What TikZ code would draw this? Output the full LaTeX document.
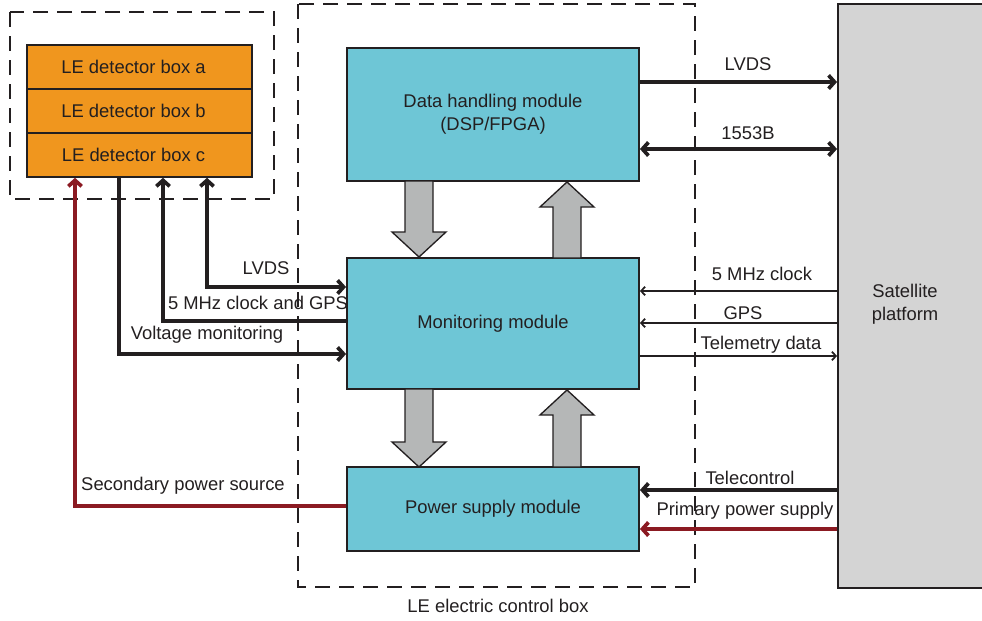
\documentclass[tikz,border=0pt]{standalone}
\usepackage{fontspec}
\setmainfont{Liberation Sans}
\usetikzlibrary{arrows.meta}

\definecolor{linecol}{RGB}{35,31,32}
\definecolor{detorange}{RGB}{240,150,30}
\definecolor{modcyan}{RGB}{110,198,214}
\definecolor{platgray}{RGB}{212,212,212}
\definecolor{blkgray}{RGB}{181,183,183}
\definecolor{powred}{RGB}{139,26,34}

\begin{document}
\begin{tikzpicture}[x=0.75pt, y=-0.75pt,
  font=\fontsize{13.8}{17}\selectfont, text=linecol,
  module/.style={draw=linecol, line width=1.4pt, fill=modcyan, minimum width=219pt, align=center},
  detbox/.style={draw=linecol, line width=1.2pt, fill=detorange, minimum width=168.75pt, minimum height=33pt},
  platform/.style={draw=linecol, line width=1.4pt, fill=platgray, minimum width=109.5pt, minimum height=438pt},
  dashbox/.style={draw=linecol, line width=1.9pt, dash pattern=on 11pt off 7pt},
  lbl/.style={inner sep=0pt},
  wire/.style={draw=linecol, line width=2.8pt, >={Straight Barb[length=4.5pt,width=10pt]}},
  thinwire/.style={draw=linecol, line width=1.3pt, >={Straight Barb[length=3pt,width=6.5pt]}},
  power/.style={wire, draw=powred},
  blk/.style={draw=linecol, line width=1pt, fill=blkgray, line join=miter}]
  \useasboundingbox (0,0) rectangle (982,621);

  % dashed enclosures
  \draw[dashbox] (10,12) rectangle (274,199);
  \draw[dashbox] (298,4) rectangle (695,587);
  \node[lbl] (ctrlbox) at (498,606) {LE electric control box};

  % detector stack
  \node[detbox] (deta) at (139.5,67) {LE detector box a\kern9pt};
  \node[detbox] (detb) at (139.5,111) {LE detector box b\kern9pt};
  \node[detbox] (detc) at (139.5,155) {LE detector box c\kern9pt};

  % modules
  \node[module, minimum height=99.75pt] (data) at (493,114.5) {Data handling module\\(DSP/FPGA)};
  \node[module, minimum height=98.25pt] (mon) at (493,323.5) {Monitoring module};
  \node[module, minimum height=63pt] (pwr) at (493,509) {Power supply module};

  % satellite
  \node[platform] (sat) at (911,296) {};
  \node[lbl, align=center] (satlbl) at (905,304) {Satellite\\platform};

  % block arrows between modules
  \foreach \xc/\ya/\yh/\yb in {419/181/232/257, 419/389/442/467, 567/258/207/182, 567/467/415/390}
    \draw[blk] (\xc-14,\ya) -- (\xc+14,\ya) -- (\xc+14,\yh) -- (\xc+27,\yh) -- (\xc,\yb)
      -- (\xc-27,\yh) -- (\xc-14,\yh) -- cycle;

  % platform links
  \draw[wire,->] (data.east |- 0,82) -- (sat.west |- 0,82);
  \draw[wire,<->] (data.east |- 0,149) -- (sat.west |- 0,149);
  \draw[thinwire,->] (sat.west |- 0,291) -- (mon.east |- 0,291);
  \draw[thinwire,->] (sat.west |- 0,323) -- (mon.east |- 0,323);
  \draw[thinwire,->] (mon.east |- 0,356) -- (sat.west |- 0,356);
  \draw[wire,->] (sat.west |- 0,490) -- (pwr.east |- 0,490);
  \draw[power,->] (sat.west |- 0,529) -- (pwr.east |- 0,529);

  \node[lbl] (lvdsout) at (748,64) {LVDS};
  \node[lbl] (bus) at (748,133) {1553B};
  \node[lbl] (clk) at (762,274) {5 MHz clock};
  \node[lbl] (gps) at (743,313) {GPS};
  \node[lbl] (tm) at (761,345) {Telemetry data};
  \node[lbl] (tc) at (750,478) {Telecontrol};
  \node[lbl] (prim) at (745,511) {Primary power supply};

  % detector links
  \draw[wire,<->] (detc.south -| 207,0) |- (mon.west |- 0,287);
  \draw[wire,<-] (detc.south -| 163,0) |- (mon.west |- 0,321);
  \draw[wire,->] (detc.south -| 119,0) |- (mon.west |- 0,354);
  \draw[power,->] (pwr.west |- 0,506) -| (detc.south -| 75,0);

  \node[lbl] (lvdsin) at (266,268) {LVDS};
  \node[lbl] (clkgps) at (258,303) {5 MHz clock and GPS};
  \node[lbl] (volt) at (207,335) {Voltage monitoring};
  \node[lbl] (sec) at (183,486) {Secondary power source};
\end{tikzpicture}
\end{document}
